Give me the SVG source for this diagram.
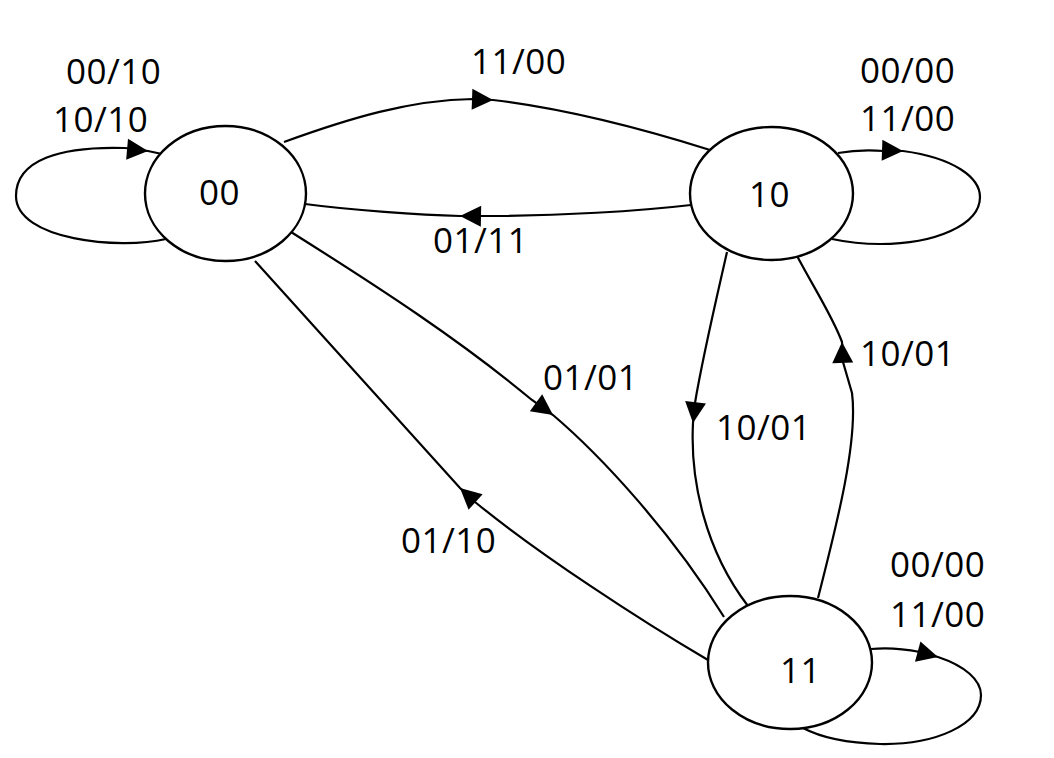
<svg xmlns="http://www.w3.org/2000/svg" xmlns:xlink="http://www.w3.org/1999/xlink" width="1054" height="758" viewBox="0 0 1054 758">
<style>
.node{fill:#fff;stroke:#000;stroke-width:2.4}
.edge{fill:none;stroke:#000;stroke-width:2.2}
text{font-family:"Open Sans","Liberation Sans",sans-serif;font-size:35px;letter-spacing:0.5px;fill:#000}
</style>
<defs>
<path id="arrow" d="M0,0 L-21,-10.5 L-21,10.5 Z" fill="#000"/>
</defs>
<rect width="1054" height="758" fill="#fff"/>
<g id="connectors">
<path class="edge" d="M166,239 C120,250 16,240 16,196 C16,160 60,146 125,148 L148,151 L162,154"/>
<use xlink:href="#arrow" href="#arrow" transform="translate(148,151) rotate(5)"/>
<path class="edge" d="M284,142 C350,118 410,100 473,99 L493,100 C560,108 640,128 710,150"/>
<use xlink:href="#arrow" href="#arrow" transform="translate(493,100) rotate(2)"/>
<path class="edge" d="M691,205 C640,211 560,216 480,216 L460,216 C420,215 350,210 305,204"/>
<use xlink:href="#arrow" href="#arrow" transform="translate(460,216) rotate(181)"/>
<path class="edge" d="M291,232 C380,288 460,340 532,400 L553,415 C600,455 670,530 724,617"/>
<use xlink:href="#arrow" href="#arrow" transform="translate(553,415) rotate(36)"/>
<path class="edge" d="M708,660 C640,620 540,555 475,502 L460,488 L255,261"/>
<use xlink:href="#arrow" href="#arrow" transform="translate(460,488) rotate(222)"/>
<path class="edge" d="M727,252 C715,305 702,360 695,403 L693,423 C690,480 705,550 748,606"/>
<use xlink:href="#arrow" href="#arrow" transform="translate(693,423) rotate(97)"/>
<path class="edge" d="M818,598 C838,520 858,440 852,393 L843,362 L842,342 C832,315 812,285 795,252"/>
<use xlink:href="#arrow" href="#arrow" transform="translate(842,342) rotate(268)"/>
<path class="edge" d="M838,153 C855,150 870,150 884,151 L903,151 C955,158 980,178 980,197 C980,225 935,244 880,244 C862,244 846,242 832,239"/>
<use xlink:href="#arrow" href="#arrow" transform="translate(903,151) rotate(2)"/>
<path class="edge" d="M871,649 C890,647 905,649 920,652 L938,657 C965,666 981,680 981,695 C981,725 935,745 880,744 C845,743 820,737 803,728"/>
<use xlink:href="#arrow" href="#arrow" transform="translate(938,657) rotate(15)"/>
</g>
<g id="node-00">
<ellipse class="node" cx="225.5" cy="193.5" rx="80.5" ry="67.5"/>
<text x="199" y="205">00</text>
</g>
<g id="node-10">
<ellipse class="node" cx="771.5" cy="193.5" rx="81.5" ry="66.5"/>
<text x="749" y="207">10</text>
</g>
<g id="node-11">
<ellipse class="node" cx="790" cy="662.5" rx="82" ry="66.5"/>
<text x="780" y="683">11</text>
</g>
<g id="labels">
<text x="66" y="84">00/10</text>
<text x="53" y="132">10/10</text>
<text x="471" y="74">11/00</text>
<text x="433" y="253">01/11</text>
<text x="860" y="83">00/00</text>
<text x="860" y="131">11/00</text>
<text x="860" y="366">10/01</text>
<text x="716" y="440">10/01</text>
<text x="543" y="390">01/01</text>
<text x="401" y="553">01/10</text>
<text x="890" y="577">00/00</text>
<text x="890" y="627">11/00</text>
</g>
</svg>
